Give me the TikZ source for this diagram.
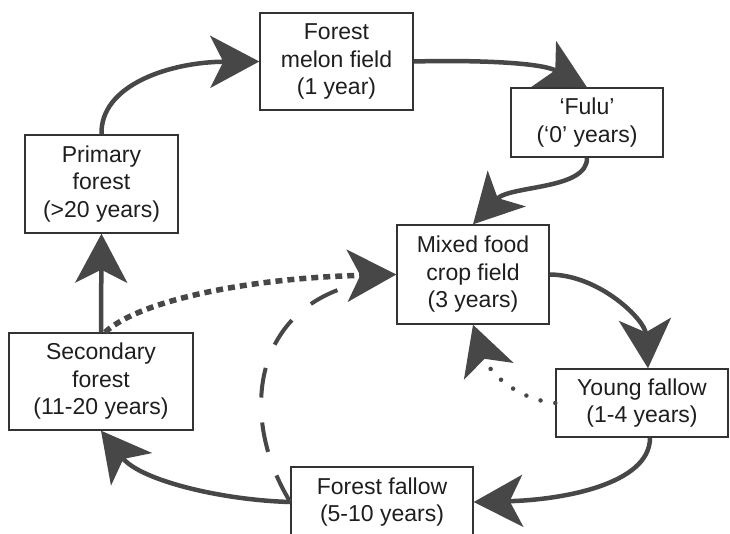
\documentclass[tikz,border=0pt]{standalone}
\usepackage{fontspec}
\setmainfont{Liberation Sans}
\usepackage{tikz}
\usetikzlibrary{arrows.meta}
\definecolor{ink}{HTML}{1E1E1E}
\definecolor{arrowgray}{HTML}{474747}
\definecolor{boxline}{HTML}{333333}

\begin{document}
\begin{tikzpicture}[x=1pt,y=-1pt,
  stage/.style={draw=boxline,line width=1.4pt,align=center,inner sep=0pt,
                text=ink,font=\fontsize{23}{27.5}\selectfont},
  bighead/.style={-{Stealth[length=49pt,width=52pt,inset=13pt]}},
  cycle/.style={bighead,arrowgray,line width=4.5pt},
  squaredots/.style={bighead,arrowgray,line width=5.5pt,dash pattern=on 7pt off 5pt},
  longdash/.style={arrowgray,line width=4pt,dash pattern=on 30pt off 25pt},
  rounddots/.style={bighead,arrowgray,line width=4.5pt,line cap=round,
                    dash pattern=on 0pt off 15pt}
]
\useasboundingbox (0,0) rectangle (730,533);
\node[stage,minimum width=153pt,minimum height=97pt] (melon) at (336.5,61.5) {Forest\\melon field\\(1 year)};
\node[stage,minimum width=152pt,minimum height=69pt] (fulu) at (587,122.5) {‘Fulu’\\(‘0’ years)};
\node[stage,minimum width=153pt,minimum height=98pt] (primary) at (101.5,184) {Primary\\forest\\(>20 years)};
\node[stage,minimum width=152pt,minimum height=99pt] (mixed) at (473,274.5) {Mixed food\\crop field\\(3 years)};
\node[stage,minimum width=184pt,minimum height=97pt] (secondary) at (101,381.5) {Secondary\\forest\\(11-20 years)};
\node[stage,minimum width=172pt,minimum height=68pt] (young) at (642,403) {Young fallow\\(1-4 years)};
\node[stage,minimum width=182pt,minimum height=70pt] (ffallow) at (382,502) {Forest fallow\\(5-10 years)};

\draw[cycle] (primary.north) .. controls (100,85) and (170,62) .. (melon.west);
\draw[cycle] (melon.east) .. controls (470,60) and (540,62) .. (fulu.north);
\draw[cycle] (fulu.south) .. controls (588,190) and (510,185) .. (mixed.north);
\draw[cycle] (mixed.east) .. controls (600,275) and (645,320) .. ([xshift=6pt]young.north);
\draw[cycle] ([xshift=8pt]young.south) .. controls (650,485) and (560,500) .. (ffallow.east);
\draw[cycle] (ffallow.west) .. controls (220,500) and (140,480) .. (secondary.south);
\draw[cycle] (secondary.north) -- (primary.south);
\draw[longdash,shorten >=40pt] (ffallow.west) .. controls (240,420) and (250,310) .. (mixed.west);
\draw[squaredots] ([xshift=4pt]secondary.north) .. controls (140,300) and (250,278) .. (mixed.west);
\draw[rounddots] (young.west) .. controls (520,400) and (490,375) .. (mixed.south);
\end{tikzpicture}
\end{document}
